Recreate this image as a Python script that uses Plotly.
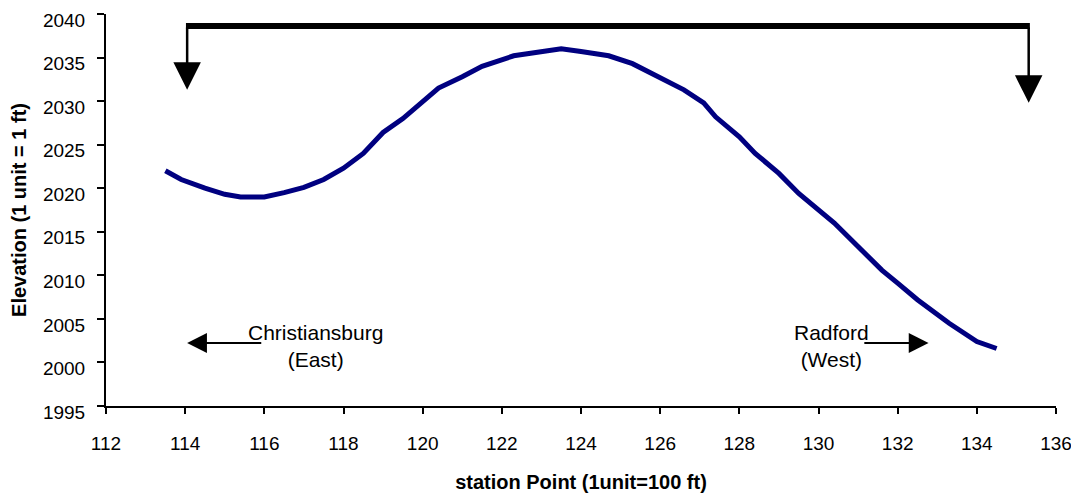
import plotly.graph_objects as go

# Elevation profile
station = [113.5, 113.9, 114.5, 115.0, 115.4, 116.0, 116.5, 117.0, 117.5, 118.0,
           118.5, 119.0, 119.5, 119.8, 120.4, 121.0, 121.5, 122.3, 123.0, 123.5,
           124.0, 124.7, 125.3, 126.0, 126.6, 127.1, 127.4, 128.0, 128.4, 129.0,
           129.5, 130.4, 131.0, 131.6, 132.0, 132.5, 133.3, 134.0, 134.5]
elevation = [2022.0, 2021.0, 2020.0, 2019.3, 2019.0, 2019.0, 2019.5, 2020.1, 2021.0, 2022.3,
             2024.0, 2026.4, 2028.0, 2029.2, 2031.5, 2032.8, 2034.0, 2035.2, 2035.6, 2036.0,
             2035.7, 2035.2, 2034.3, 2032.6, 2031.3, 2029.8, 2028.2, 2025.9, 2024.0, 2021.7,
             2019.4, 2016.0, 2013.3, 2010.6, 2009.1, 2007.2, 2004.5, 2002.4, 2001.6]

x_ticks = [112, 114, 116, 118, 120, 122, 124, 126, 128, 130, 132, 134, 136]
y_ticks = [1995, 2000, 2005, 2010, 2015, 2020, 2025, 2030, 2035, 2040]

# Direction labels
dir_labels = ["Christiansburg<br>(East)", "Radford<br>(West)"]
dir_label_x = [117.28, 130.33]
dir_label_y = [2001.9, 2001.9]

FONT = "Arial, 'Liberation Sans', sans-serif"

fig = go.Figure()
fig.add_trace(go.Scatter(
    x=station, y=elevation, mode="lines",
    line=dict(color="#000080", width=5),
    showlegend=False, hoverinfo="skip",
))

# top bracket
bracket_left, bracket_right, bracket_y = 114.05, 135.31, 2038.63
fig.add_shape(type="line", xref="x", yref="y",
              x0=bracket_left - 0.03, x1=bracket_right + 0.03, y0=bracket_y, y1=bracket_y,
              line=dict(color="black", width=6))

def arrow(x_tip, y_tip, x_tail, y_tail, aw, asz):
    fig.add_annotation(x=x_tip, y=y_tip, ax=x_tail, ay=y_tail,
                       xref="x", yref="y", axref="x", ayref="y",
                       text="", showarrow=True, arrowhead=2, arrowsize=asz,
                       arrowwidth=aw, arrowcolor="black", standoff=0)

arrow(bracket_left, 2031.3, bracket_left, bracket_y, 2.5, 2.2)
arrow(bracket_right, 2029.8, bracket_right, bracket_y, 2.5, 2.2)
arrow(114.05, 2002.23, 115.96, 2002.23, 2.2, 1.8)
arrow(132.78, 2002.23, 131.12, 2002.23, 2.2, 1.8)

for t, x, y in zip(dir_labels, dir_label_x, dir_label_y):
    fig.add_annotation(x=x, y=y, xref="x", yref="y", text=t, showarrow=False,
                       font=dict(family=FONT, size=21, color="black"),
                       align="center", xanchor="center", yanchor="middle")

# page body adds an 8px offset, so the figure is drawn 8px smaller
fig.update_layout(
    width=1071, height=485,
    margin=dict(l=98, r=23, t=6, b=87, autoexpand=False),
    paper_bgcolor="white", plot_bgcolor="white",
    font=dict(family=FONT, color="black"),
    showlegend=False,
)
fig.update_xaxes(
    range=[112, 136], tickvals=x_ticks, ticktext=[str(v) for v in x_ticks],
    showline=True, linecolor="black", linewidth=2, mirror=False,
    ticks="outside", ticklen=6, tickwidth=2, tickcolor="black",
    showgrid=False, zeroline=False, automargin=False,
    tickfont=dict(family=FONT, size=19, color="black"),
    ticklabelstandoff=13, ticklabeloverflow="allow",
    title=dict(text="<b>station Point (1unit=100 ft)</b>",
               font=dict(family=FONT, size=20, color="black"), standoff=25),
)
fig.update_yaxes(
    range=[1995, 2040], tickvals=y_ticks, ticktext=[str(v) for v in y_ticks],
    showline=True, linecolor="black", linewidth=2, mirror=False,
    ticks="outside", ticklen=7, tickwidth=2, tickcolor="black",
    showgrid=False, zeroline=False, automargin=False,
    tickfont=dict(family=FONT, size=19, color="black"),
    ticklabelstandoff=8, ticklabelshift=6, ticklabeloverflow="allow",
    title=dict(text="<b>Elevation (1 unit = 1 ft)</b>",
               font=dict(family=FONT, size=20, color="black"), standoff=12),
)

fig.write_html("out.html")
